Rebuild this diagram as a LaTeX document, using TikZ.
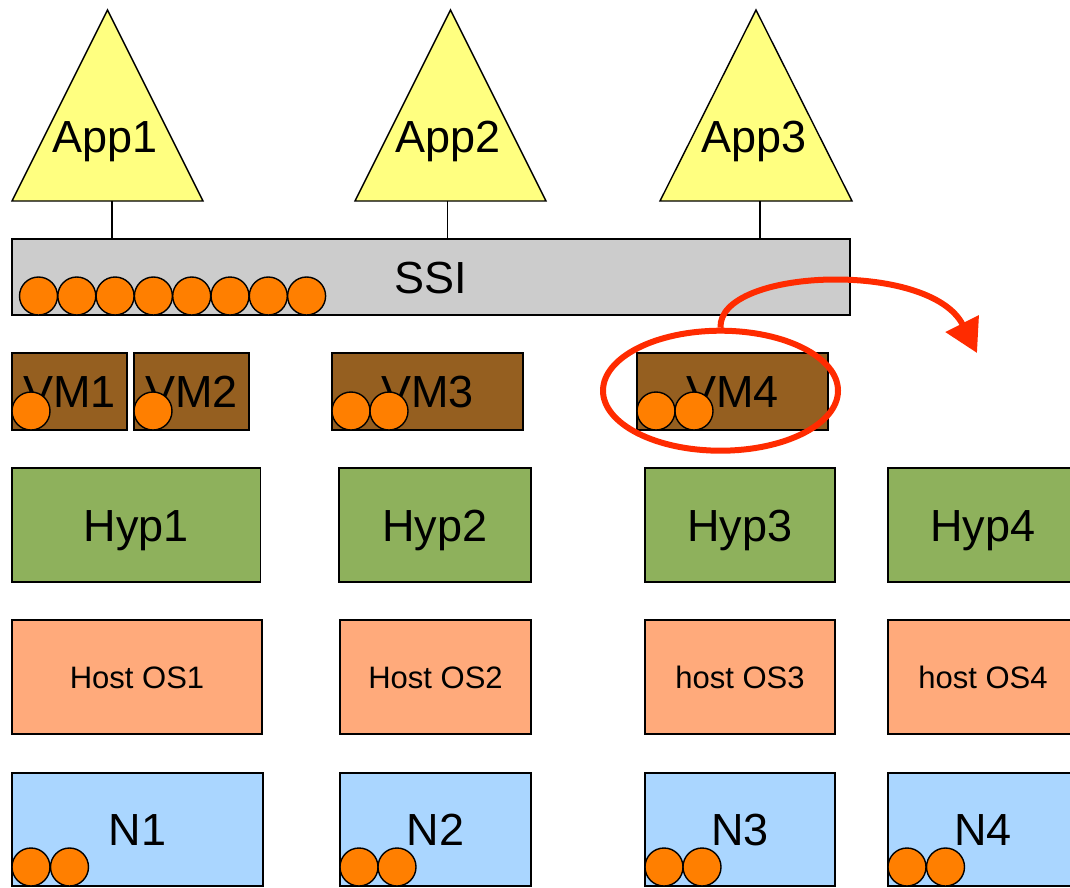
\documentclass[tikz,border=0pt]{standalone}
\usepackage{fontspec}
\setmainfont{Liberation Sans}
\usetikzlibrary{arrows.meta,shapes.geometric}
\definecolor{appY}{HTML}{FFFF80}
\definecolor{ssiG}{HTML}{CCCCCC}
\definecolor{vmB}{HTML}{955F20}
\definecolor{hypG}{HTML}{8EB15C}
\definecolor{osS}{HTML}{FFAA7B}
\definecolor{nB}{HTML}{AAD6FF}
\definecolor{coreO}{HTML}{FF7F00}
\definecolor{migR}{HTML}{FF2B00}
\begin{document}
\begin{tikzpicture}[x=1pt,y=-1pt,line join=miter,
  box/.style={draw=black,line width=1.4pt,inner sep=0pt,rectangle,
    text height=32pt,text depth=0pt,font=\fontsize{45}{50}\selectfont},
  osbox/.style={box,fill=osS,text height=22.2pt,font=\fontsize{31}{36}\selectfont},
  vmbox/.style={box,fill=vmB,minimum height=77pt},
  hypbox/.style={box,fill=hypG,minimum height=114pt},
  nbox/.style={box,fill=nB,minimum height=113pt},
  apptri/.style={draw=black,line width=1.4pt,fill=appY},
  applabel/.style={anchor=base,inner sep=0pt,font=\fontsize{45}{50}\selectfont},
  core/.style={draw=black,line width=1.4pt,fill=coreO},
  link/.style={draw=black,line width=1.2pt},
  ring/.style={draw=migR,line width=6pt,ellipse,inner sep=0pt},
  migrate/.style={draw=migR,line width=6pt,-{Triangle[length=33pt,width=36pt]}}
]
\useasboundingbox (0,0) rectangle (1070,887);
\clip (0,0) rectangle (1070,887);

% application triangles
\draw[apptri] (107.5,10) -- (203,201) -- (12,201) -- cycle;
\draw[apptri] (450.5,10) -- (546,201) -- (355,201) -- cycle;
\draw[apptri] (756,10) -- (852,201) -- (660,201) -- cycle;
\node[applabel] (app1) at (105,152) {App1};
\node[applabel] (app2) at (448,152) {App2};
\node[applabel] (app3) at (754,152) {App3};
\coordinate (a1b) at (112,201);
\coordinate (a2b) at (447.5,201);
\coordinate (a3b) at (760,201);

% SSI
\node[box,fill=ssiG,minimum width=838pt,minimum height=76pt] (ssi) at (431,277) {SSI};
\draw[link] (a1b) -- (a1b |- ssi.north);
\draw[link] (a2b) -- (a2b |- ssi.north);
\draw[link] (a3b) -- (a3b |- ssi.north);
\foreach \i in {0,...,7}{
  \draw[core] ({38.5+38.3*\i},296) circle[radius=19pt];
}

% VMs
\node[vmbox,minimum width=115pt] (vm1) at (69.5,391.5) {VM1};
\node[vmbox,minimum width=115pt] (vm2) at (191.5,391.5) {VM2};
\node[vmbox,minimum width=191pt] (vm3) at (427.5,391.5) {VM3};
\node[vmbox,minimum width=191pt] (vm4) at (732.5,391.5) {VM4};
\foreach \x in {31,153,351,389,656,694}{
  \draw[core] (\x,411) circle[radius=19pt];
}

% hypervisors
\node[hypbox,minimum width=248.5pt] (hyp1) at (136.25,525) {Hyp1};
\node[hypbox,minimum width=192pt] (hyp2) at (435,525) {Hyp2};
\node[hypbox,minimum width=190pt] (hyp3) at (740,525) {Hyp3};
\node[hypbox,minimum width=190pt] (hyp4) at (983,525) {Hyp4};

% host OS
\node[osbox,minimum width=250pt,minimum height=114pt] (os1) at (137,677) {Host OS1};
\node[osbox,minimum width=191pt,minimum height=114pt] (os2) at (435.5,677) {Host OS2};
\node[osbox,minimum width=190pt,minimum height=114pt] (os3) at (740,677) {host OS3};
\node[osbox,minimum width=190pt,minimum height=114pt] (os4) at (983,677) {host OS4};

% nodes
\node[nbox,minimum width=251pt] (n1) at (137.5,829.5) {N1};
\node[nbox,minimum width=191pt] (n2) at (435.5,829.5) {N2};
\node[nbox,minimum width=190pt] (n3) at (740,829.5) {N3};
\node[nbox,minimum width=190pt] (n4) at (983,829.5) {N4};
\foreach \x in {31,69.5,359,397,664,702,907,945.5}{
  \draw[core] (\x,867) circle[radius=19pt];
}

% migration
\node[ring,minimum width=235pt,minimum height=120pt] (mig) at (720.5,390.7) {};
\coordinate (dest) at (977,353);
\draw[migrate] (mig.north) .. controls (718,268) and (930,260) .. (dest);
\end{tikzpicture}
\end{document}
